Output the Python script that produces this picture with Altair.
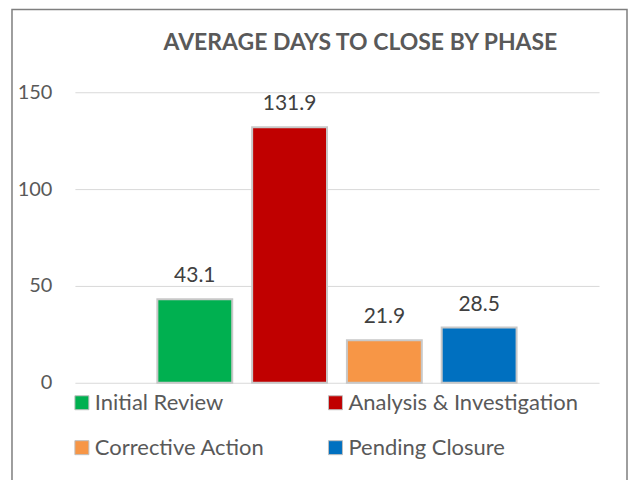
import altair as alt
import pandas as pd

phases = ["Initial Review", "Analysis & Investigation", "Corrective Action", "Pending Closure"]
days = [43.1, 131.9, 21.9, 28.5]
colors = ["#00B050", "#C00000", "#F79646", "#0070C0"]
y_ticks = [0, 50, 100, 150]
title_text = ["AVERAGE DAYS TO CLOSE BY PHASE"]

df = pd.DataFrame({"phase": phases, "days": days, "label": [f"{d:.1f}" for d in days]})
frame_df = pd.DataFrame({"k": [0]})
title_df = pd.DataFrame({"t": title_text})

FONT = "Lato"

x = alt.X("phase:N", sort=phases, axis=None,
          scale=alt.Scale(paddingInner=0.21, paddingOuter=0.87))
y = alt.Y("days:Q", scale=alt.Scale(domain=[0, 150], nice=False),
          axis=alt.Axis(values=y_ticks, title=None, domain=False, ticks=False, grid=True,
                        gridColor="#D9D9D9", gridWidth=1, labelFontSize=20,
                        labelColor="#595959", labelPadding=23, labelFont=FONT))

bars = alt.Chart(df).mark_bar(stroke="#C8C8C8", strokeWidth=2).encode(
    x=x, y=y,
    color=alt.Color("phase:N", sort=phases,
                    scale=alt.Scale(domain=phases, range=colors),
                    legend=alt.Legend(orient="none", legendX=-4, legendY=300, columns=2,
                                      direction="horizontal",
                                      columnPadding=60, rowPadding=23, title=None,
                                      symbolType="square", symbolSize=196,
                                      symbolStrokeColor="#BFBFBF", symbolStrokeWidth=1,
                                      labelFontSize=22, labelColor="#595959", labelFont=FONT,
                                      labelLimit=400, labelOffset=2))
)

text = alt.Chart(df).mark_text(baseline="alphabetic", dy=-17, fontSize=21,
                               color="#404040", font=FONT).encode(x=x, y=y, text="label:N")

title = alt.Chart(title_df).mark_text(baseline="alphabetic", align="center", fontSize=23,
                                      fontWeight="bold", color="#595959", font=FONT).encode(
    x=alt.value(286), y=alt.value(-42), text="t:N"
)

frame = alt.Chart(frame_df).mark_rect(fillOpacity=0, stroke="#7F7F7F", strokeWidth=1.5).encode(
    x=alt.value(-63), x2=alt.value(553), y=alt.value(-83), y2=alt.value(400)
)

chart = alt.layer(bars, text, title, frame).properties(
    width=525, height=291,
    autosize=alt.AutoSizeParams(type="none"),
    padding={"left": 67, "top": 84, "right": 29, "bottom": 97},
).configure_view(stroke=None)

chart.save("out.html", embed_options={"renderer": "svg", "actions": False})
